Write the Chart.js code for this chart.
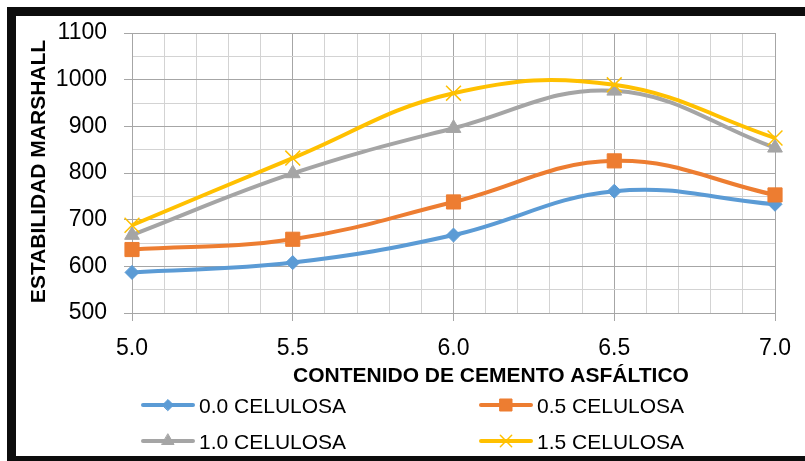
<!DOCTYPE html>
<html><head><meta charset="utf-8">
<script src="https://cdn.jsdelivr.net/npm/chart.js@4"></script>
<style>
html,body{margin:0;padding:0;background:#fff;}
#wrap{position:relative;width:805px;height:461px;overflow:hidden;background:#fff;}
#frame{position:absolute;left:7px;top:7px;width:830px;height:440px;border-left:9px solid #0d0d0d;border-top:9px solid #0d0d0d;border-bottom:5px solid #0d0d0d;pointer-events:none;}
canvas{position:absolute;left:0;top:0;}
</style></head>
<body>
<div id="wrap"><canvas id="c" width="805" height="461"></canvas><div id="frame"></div></div>
<script>
const categories = [5.0, 5.5, 6.0, 6.5, 7.0];
const cel00 = [587, 608, 667, 761, 733];
const cel05 = [636, 658, 738, 826, 753];
const cel10 = [667, 799, 896, 976, 854];
const cel15 = [688, 832, 971, 989, 875];
const seriesLabels = ['0.0 CELULOSA', '0.5 CELULOSA', '1.0 CELULOSA', '1.5 CELULOSA'];
const xTitle = 'CONTENIDO DE CEMENTO ASFÁLTICO';
const yTitle = 'ESTABILIDAD MARSHALL';

const FONT = "'Liberation Sans', Arial, sans-serif";
const MAJOR = '#a6a6a6', MINOR = '#d3d3d3';

function pts(vals){ return categories.map((x,i)=>({x:x, y:vals[i]})); }
function isMajorX(v){ return Math.abs(v*2 - Math.round(v*2)) < 1e-6; }
function isMajorY(v){ return Math.abs(v/100 - Math.round(v/100)) < 1e-6; }

const styles = [
  {color:'#5b9bd5', pointStyle:'rectRot', radius:7, lr:5.5, bw:1},
  {color:'#ed7d31', pointStyle:'rect', radius:10, lr:8.5, bw:1},
  {color:'#a5a5a5', pointStyle:'triangle', radius:8.5, lr:7, bw:1},
  {color:'#ffc000', pointStyle:'crossRot', radius:10.5, lr:8, bw:1.5}
];
const seriesValues = [cel00, cel05, cel10, cel15];

const datasets = seriesValues.map((vals,i)=>({
  label: seriesLabels[i],
  data: pts(vals),
  borderColor: styles[i].color,
  backgroundColor: styles[i].color,
  borderWidth: 4,
  tension: 0.4,
  pointStyle: styles[i].pointStyle,
  pointRadius: styles[i].radius,
  pointHoverRadius: styles[i].radius,
  pointBorderWidth: styles[i].bw,
  pointBorderColor: styles[i].color,
  pointBackgroundColor: styles[i].color,
  clip: false,
  order: 3 - i
}));

const overlay = {
  id: 'overlay',
  afterDraw(chart){
    const ctx = chart.ctx;
    ctx.save();
    ctx.fillStyle = '#000';
    // x title
    ctx.font = "bold 21px " + FONT;
    ctx.textAlign = 'left';
    ctx.textBaseline = 'alphabetic';
    ctx.fillText(xTitle, 293, 382);
    // y title
    ctx.save();
    ctx.translate(45, 171.5);
    ctx.rotate(-Math.PI/2);
    ctx.textAlign = 'center';
    ctx.fillText(yTitle, 0, 0);
    ctx.restore();
    // legend
    const pos = [[141,405],[479,405],[141,441],[479,441]];
    ctx.font = "21px " + FONT;
    pos.forEach((p,i)=>{
      const s = styles[i];
      ctx.strokeStyle = s.color;
      ctx.lineWidth = 4;
      ctx.lineCap = 'round';
      ctx.beginPath();
      ctx.moveTo(p[0]+2, p[1]);
      ctx.lineTo(p[0]+52, p[1]);
      ctx.stroke();
      const opts = {pointStyle:s.pointStyle, radius:s.lr, rotation:0, borderWidth:s.bw};
      ctx.fillStyle = s.color;
      ctx.strokeStyle = s.color;
      ctx.lineWidth = s.bw;
      Chart.helpers.drawPoint(ctx, opts, p[0]+27, p[1]);
      ctx.fillStyle = '#000';
      ctx.textAlign = 'left';
      ctx.textBaseline = 'alphabetic';
      ctx.fillText(seriesLabels[i], p[0]+58, p[1]+7.5);
    });
    ctx.restore();
  }
};

new Chart(document.getElementById('c'), {
  type: 'line',
  data: { datasets: datasets },
  options: {
    responsive: false,
    animation: false,
    events: [],
    layout: { padding: { top: 33, right: 29, left: 0, bottom: 0 } },
    plugins: { legend: { display: false }, tooltip: { enabled: false } },
    scales: {
      x: {
        type: 'linear', min: 5, max: 7,
        afterFit(s){ s.height = 148; },
        ticks: {
          stepSize: 0.1, autoSkip: false, maxRotation: 0, minRotation: 0,
          padding: 14, color: '#000',
          font: { family: FONT, size: 23 },
          callback: v => isMajorX(v) ? Number(v).toFixed(1) : ''
        },
        grid: {
          color: c => (c.tick && isMajorX(c.tick.value)) ? MAJOR : MINOR,
          tickColor: c => (c.tick && isMajorX(c.tick.value)) ? MAJOR : 'rgba(0,0,0,0)',
          tickLength: 8, lineWidth: 1
        },
        border: { color: MAJOR, width: 1 }
      },
      y: {
        min: 500, max: 1100,
        afterFit(s){ s.width = 132; },
        ticks: {
          stepSize: 50, autoSkip: false, padding: 17, color: '#000',
          font: { family: FONT, size: 23 },
          callback: v => isMajorY(v) ? String(v) : ''
        },
        grid: {
          color: c => (c.tick && isMajorY(c.tick.value)) ? MAJOR : MINOR,
          tickColor: c => (c.tick && isMajorY(c.tick.value)) ? MAJOR : 'rgba(0,0,0,0)',
          tickLength: 8, lineWidth: 1
        },
        border: { color: MAJOR, width: 1 }
      }
    }
  },
  plugins: [overlay]
});
</script>
</body></html>
